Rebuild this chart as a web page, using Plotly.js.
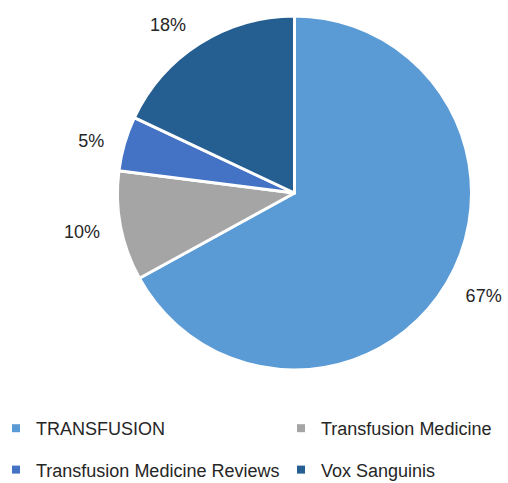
<!DOCTYPE html>
<html>
<head>
<meta charset="utf-8">
<script src="https://cdn.plot.ly/plotly-3.0.1.min.js"></script>
<style>html,body{margin:0;padding:0;background:#fff;}#chart{width:508px;height:483px;}</style>
</head>
<body>
<div id="chart"></div>
<script>
var labels = ["TRANSFUSION", "Transfusion Medicine", "Transfusion Medicine Reviews", "Vox Sanguinis"];
var values = [67, 10, 5, 18];
var colors = ["#5B9BD5", "#A5A5A5", "#4472C4", "#255E91"];
var legendColumn = ["legend", "legend2", "legend", "legend2"];

var W = 508, H = 483;
var FONT = "Liberation Sans, Arial, Helvetica, sans-serif";
var TXT = "#262626";

function box(cx, cy, r) {
  return {
    x: [(cx - r) / W, (cx + r) / W],
    y: [1 - (cy + r) / H, 1 - (cy - r) / H]
  };
}

var mainPie = {
  type: "pie",
  labels: labels,
  values: values,
  sort: false,
  direction: "clockwise",
  rotation: 0,
  marker: { colors: colors, line: { color: "#ffffff", width: 3 } },
  textinfo: "none",
  hoverinfo: "label+percent",
  showlegend: false,
  domain: box(294.5, 193, 177)
};

var labelPie = {
  type: "pie",
  labels: labels,
  values: values,
  sort: false,
  direction: "clockwise",
  rotation: 0,
  marker: { colors: labels.map(function () { return "rgba(0,0,0,0)"; }), line: { width: 0 } },
  textinfo: "percent",
  textposition: "outside",
  outsidetextfont: { family: FONT, size: 18, color: TXT },
  hoverinfo: "skip",
  showlegend: false,
  domain: box(294.5, 195.5, 193)
};

var legendTraces = labels.map(function (lab, i) {
  return {
    type: "scatter",
    mode: "markers",
    x: [null],
    y: [null],
    name: lab,
    legend: legendColumn[i],
    legendgroup: "g" + i,
    marker: { symbol: "square", size: 8, color: colors[i], line: { width: 0 } },
    hoverinfo: "skip"
  };
});

var legendStyle = {
  orientation: "v",
  traceorder: "grouped",
  tracegroupgap: 15,
  indentation: -4,
  font: { family: FONT, size: 18, color: TXT },
  bgcolor: "rgba(0,0,0,0)",
  xanchor: "left",
  yanchor: "top",
  y: 1 - 410 / H
};

var layout = {
  width: W,
  height: H,
  margin: { l: 0, r: 0, t: 0, b: 0, autoexpand: false },
  paper_bgcolor: "#ffffff",
  plot_bgcolor: "#ffffff",
  font: { family: FONT, size: 18, color: TXT },
  xaxis: { visible: false },
  yaxis: { visible: false },
  legend: Object.assign({}, legendStyle, { x: 0 }),
  legend2: Object.assign({}, legendStyle, { x: 285 / W }),
  showlegend: true
};

Plotly.newPlot("chart", [mainPie, labelPie].concat(legendTraces), layout, { displayModeBar: false, staticPlot: true });
</script>
</body>
</html>
